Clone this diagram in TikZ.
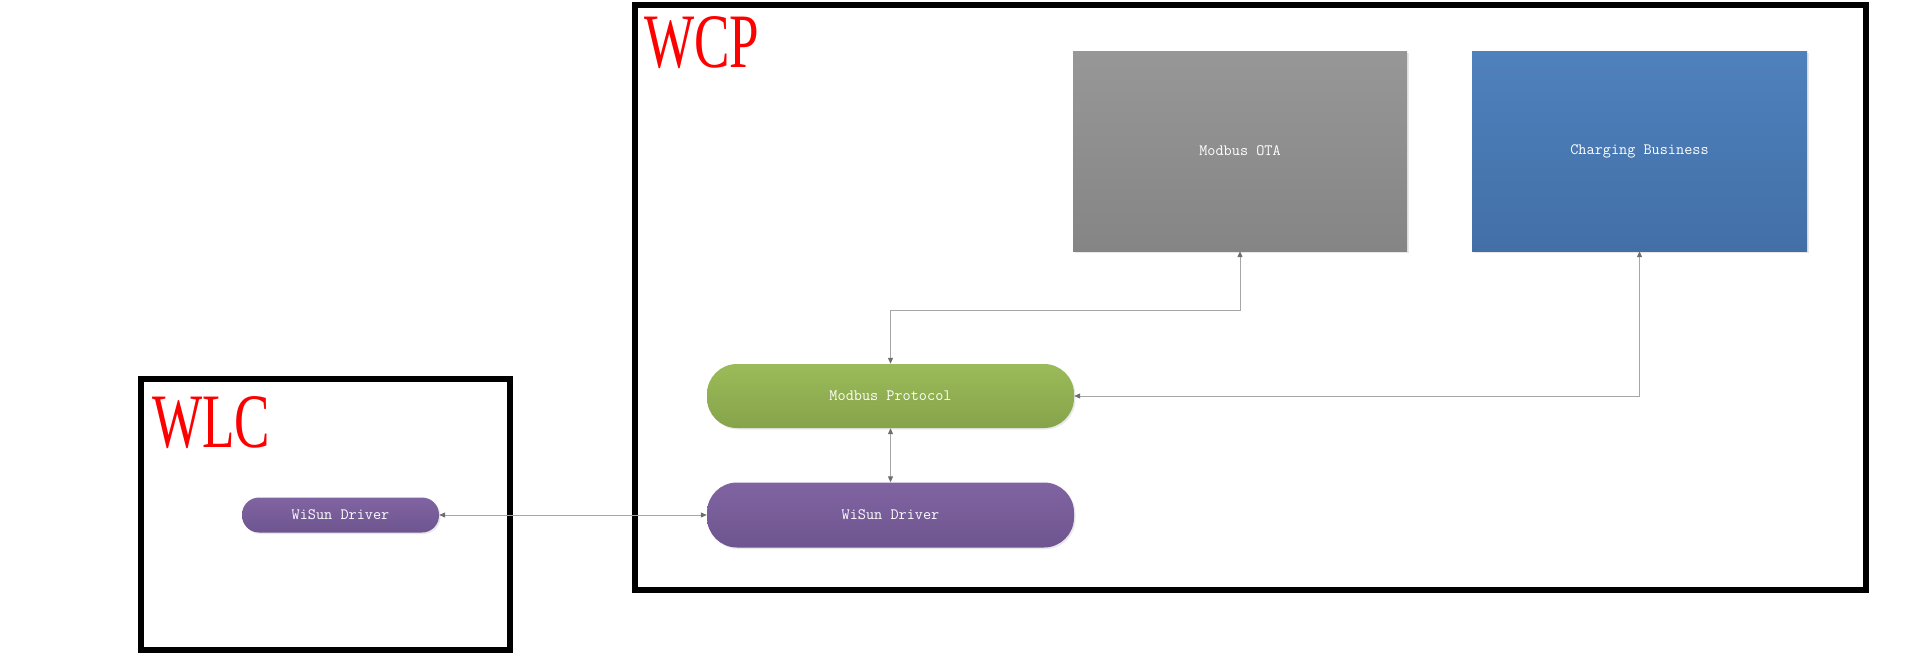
\documentclass[tikz,border=0pt]{standalone}
\usepackage{fontspec}
\newfontfamily\titlefont{Liberation Serif}
\usetikzlibrary{arrows.meta,shadows}
\definecolor{otaTop}{HTML}{979797}
\definecolor{otaBot}{HTML}{858585}
\definecolor{cbTop}{HTML}{4F81BD}
\definecolor{cbBot}{HTML}{426FA6}
\definecolor{grTop}{HTML}{9BBB59}
\definecolor{grBot}{HTML}{86A34A}
\definecolor{puTop}{HTML}{8064A2}
\definecolor{puBot}{HTML}{6E558F}
\definecolor{lineGray}{HTML}{A6A6A6}
\definecolor{tipGray}{HTML}{6E6E6E}
\tikzset{
  frame/.style={draw=black, line width=6pt, rectangle, inner sep=0pt},
  title/.style={text=red, anchor=base west, inner sep=0pt, font=\titlefont\fontsize{77}{80}\selectfont, xscale=0.69},
  block/.style={rectangle, inner sep=0pt, text=white, font=\ttfamily\fontsize{15.8}{18}\selectfont,
    drop shadow={opacity=0.18, shadow xshift=1.5pt, shadow yshift=-1.5pt}},
  pill/.style={block, rounded corners=30pt},
  smallpill/.style={block, rounded corners=17pt},
  conn/.style={draw=lineGray, line width=1pt,
    {Triangle[length=6pt,width=5pt,color=tipGray]}-{Triangle[length=6pt,width=5pt,color=tipGray]}}
}
\begin{document}
\begin{tikzpicture}[x=1pt,y=-1pt]
\useasboundingbox (0,0) rectangle (1912,667);
% frames
\node[frame, minimum width=1230.5pt, minimum height=585.5pt] (wcp) at (1250.25,297.25) {};
\node[frame, minimum width=369.5pt, minimum height=271pt] (wlc) at (325.25,514.5) {};
\node[title] (wcpt) at (644,67) {WCP};
\node[title] (wlct) at (152,447) {WLC};
% blocks
\node[block, top color=otaTop, bottom color=otaBot, minimum width=334pt, minimum height=200pt] (ota) at (1240,151) {Modbus OTA};
\node[block, top color=cbTop, bottom color=cbBot, minimum width=335pt, minimum height=200pt] (cb) at (1639.5,151) {Charging Business};
\node[pill, top color=grTop, bottom color=grBot, minimum width=367pt, minimum height=64pt] (proto) at (890.5,396) {Modbus Protocol};
\node[pill, top color=puTop, bottom color=puBot, minimum width=367pt, minimum height=65pt] (wis) at (890.5,515) {WiSun Driver};
\node[smallpill, top color=puTop, bottom color=puBot, minimum width=197pt, minimum height=35pt] (wlcw) at (340.5,515) {WiSun Driver};
% connectors
\draw[conn] (ota.south) -- (ota.south |- 0,310) -| (proto.north);
\draw[conn] (cb.south) |- (proto.east);
\draw[conn] (proto.south) -- (wis.north);
\draw[conn] (wlcw.east) -- (wis.west);
\end{tikzpicture}
\end{document}
